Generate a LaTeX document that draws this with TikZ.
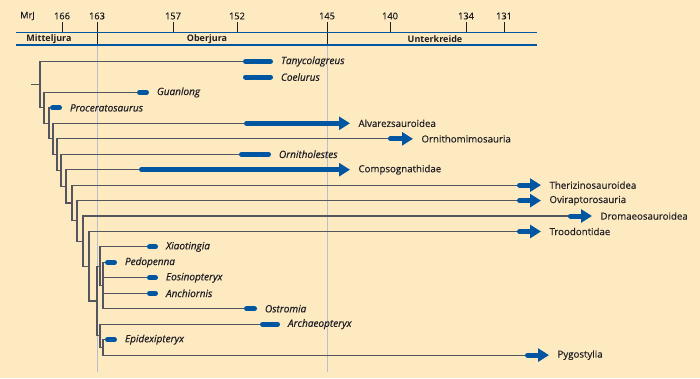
\documentclass[tikz,border=0pt]{standalone}
\usepackage{fontspec}
\setmainfont{Open Sans}
\newfontfamily\taxonfont{Open Sans}[FakeBold=0.5]
\newfontfamily\cladefont{Open Sans}[FakeBold=0.25]
\usetikzlibrary{arrows.meta, positioning}
\definecolor{pagebg}{RGB}{254, 234, 193}
\definecolor{rangeblue}{RGB}{0, 86, 160}
\definecolor{treegray}{RGB}{85, 85, 95}
\definecolor{guidegray}{RGB}{188, 190, 205}
\definecolor{inkdark}{RGB}{30, 30, 35}

\begin{document}
\begin{tikzpicture}[x=1pt, y=-1pt,
  tree/.style={draw=treegray, line width=1.1pt},
  bar/.style={draw=rangeblue, line width=5pt, line cap=round},
  longbar/.style={bar, -{Triangle[length=11pt, width=13pt]}},
  tick/.style={draw=inkdark, line width=0.9pt},
  guide/.style={draw=guidegray, line width=0.9pt},
  gen/.style={right=8pt, inner sep=0pt, text=inkdark, font=\fontsize{10}{12}\taxonfont\itshape},
  cla/.style={right=6pt, inner sep=0pt, text=inkdark, font=\fontsize{9.7}{12}\cladefont},
  yr/.style={inner sep=0pt, text=inkdark, font=\fontsize{9.3}{11}\cladefont},
  era/.style={inner sep=0pt, text=inkdark, font=\fontsize{9}{11}\selectfont\bfseries}
]
  % Background
  \fill[pagebg] (0,0) rectangle (700,378);
  \useasboundingbox (0,0) rectangle (700,378);

  % Time scale
  \node[yr] (mrj) at (27.5,16) {MrJ};
  \node[yr] (y166) at (62,16) {166};
  \node[yr] (y163) at (97,16) {163};
  \node[yr] (y157) at (173,16) {157};
  \node[yr] (y152) at (237,16) {152};
  \node[yr] (y145) at (327,16) {145};
  \node[yr] (y140) at (390,16) {140};
  \node[yr] (y134) at (466,16) {134};
  \node[yr] (y131) at (504,16) {131};
  \draw[guide] (97,45) -- (97,372);
  \draw[guide] (327,45) -- (327,372);
  \draw[tick] (62,22) -- (62,32) (173,22) -- (173,32) (237,22) -- (237,32)
    (390,22) -- (390,32) (466,22) -- (466,32) (504,22) -- (504,32);
  \draw[tick] (97,22) -- (97,45) (327,22) -- (327,45);
  \draw[rangeblue, line width=1.3pt] (16,32.3) -- (537,32.3) (16,45) -- (537,45);
  \node[era] (mitt) at (49,39) {Mitteljura};
  \node[era] (ober) at (207,39) {Oberjura};
  \node[era] (unte) at (435,39) {Unterkreide};

  % Branch points
  \coordinate (root) at (31,84.7);
  \coordinate (n0) at (40,84.7);
  \coordinate (n1) at (44,107.9);
  \coordinate (n2) at (49,123.4);
  \coordinate (n3) at (53,138.9);
  \coordinate (n4) at (57,154.5);
  \coordinate (n5) at (61,170.3);
  \coordinate (n6) at (66,186.3);
  \coordinate (n7) at (72,203);
  \coordinate (n8) at (77,220.9);
  \coordinate (n9) at (83,241.1);
  \coordinate (n10) at (89,266.3);
  \coordinate (np) at (97,301);
  \coordinate (na) at (100,266.2);
  \coordinate (na2) at (103,285.6);
  \coordinate (nb) at (100,335.8);
  \coordinate (nb2) at (103,347.4);

  % Taxa (start of range)
  \coordinate (tany) at (245.5,61.5);
  \coordinate (coel) at (245.5,77);
  \coordinate (guan) at (139.5,92.4);
  \coordinate (proc) at (52.5,107.9);
  \coordinate (alva) at (246.5,123.3);
  \coordinate (ornm) at (390.5,138.8);
  \coordinate (ornl) at (241.5,154.2);
  \coordinate (comp) at (141.5,169.7);
  \coordinate (ther) at (519.5,185.1);
  \coordinate (ovir) at (519.5,200.6);
  \coordinate (drom) at (570.5,216);
  \coordinate (troo) at (519.5,231.5);
  \coordinate (xiao) at (149.5,246.9);
  \coordinate (pedo) at (107.5,262.4);
  \coordinate (eosi) at (149.5,277.8);
  \coordinate (anch) at (149.5,293.3);
  \coordinate (ostr) at (246.5,308.7);
  \coordinate (arch) at (262.5,324.2);
  \coordinate (epid) at (107.5,339.6);
  \coordinate (pygo) at (527.5,355.1);

  % Tree
  \draw[tree] (root) -- (n0);
  \draw[tree] (n0) |- (tany);  \draw[tree] (n0) |- (n1);
  \draw[tree] (n1) |- (guan);  \draw[tree] (n1) |- (n2);
  \draw[tree] (n2) |- (proc);  \draw[tree] (n2) |- (n3);
  \draw[tree] (n3) |- (alva);  \draw[tree] (n3) |- (n4);
  \draw[tree] (n4) |- (ornm);  \draw[tree] (n4) |- (n5);
  \draw[tree] (n5) |- (ornl);  \draw[tree] (n5) |- (n6);
  \draw[tree] (n6) |- (comp);  \draw[tree] (n6) |- (n7);
  \draw[tree] (n7) |- (ther);  \draw[tree] (n7) |- (n8);
  \draw[tree] (n8) |- (ovir);  \draw[tree] (n8) |- (n9);
  \draw[tree] (n9) |- (drom);  \draw[tree] (n9) |- (n10);
  \draw[tree] (n10) |- (troo); \draw[tree] (n10) |- (np);
  \draw[tree] (np) |- (na);    \draw[tree] (np) |- (nb);
  \draw[tree] (na) |- (xiao);  \draw[tree] (na) |- (na2);
  \draw[tree] (na2) |- (pedo); \draw[tree] (na2) |- (eosi);
  \draw[tree] (na2) |- (anch); \draw[tree] (na2) |- (ostr);
  \draw[tree] (nb) |- (arch);  \draw[tree] (nb) |- (nb2);
  \draw[tree] (nb2) |- (epid); \draw[tree] (nb2) |- (pygo);

  % Ranges and names
  \draw[bar] (tany) -- ++(25,0) node[gen] (tanyL) {Tanycolagreus};
  \draw[bar] (coel) -- ++(25,0) node[gen] (coelL) {Coelurus};
  \draw[bar] (guan) -- ++(7,0) node[gen] (guanL) {Guanlong};
  \draw[bar] (proc) -- ++(7,0) node[gen] (procL) {Proceratosaurus};
  \draw[longbar] (alva) -- ++(103.5,0) node[cla] (alvaL) {Alvarezsauroidea};
  \draw[longbar] (ornm) -- ++(22.5,0) node[cla] (ornmL) {Ornithomimosauria};
  \draw[bar] (ornl) -- ++(27,0) node[gen] (ornlL) {Ornitholestes};
  \draw[longbar] (comp) -- ++(208.5,0) node[cla] (compL) {Compsognathidae};
  \draw[longbar] (ther) -- ++(21.5,0) node[cla] (therL) {Therizinosauroidea};
  \draw[longbar] (ovir) -- ++(21.5,0) node[cla] (ovirL) {Oviraptorosauria};
  \draw[longbar] (drom) -- ++(21.5,0) node[cla] (dromL) {Dromaeosauroidea};
  \draw[longbar] (troo) -- ++(21.5,0) node[cla] (trooL) {Troodontidae};
  \draw[bar] (xiao) -- ++(6,0) node[gen] (xiaoL) {Xiaotingia};
  \draw[bar] (pedo) -- ++(7,0) node[gen] (pedoL) {Pedopenna};
  \draw[bar] (eosi) -- ++(6,0) node[gen] (eosiL) {Eosinopteryx};
  \draw[bar] (anch) -- ++(6,0) node[gen] (anchL) {Anchiornis};
  \draw[bar] (ostr) -- ++(8,0) node[gen] (ostrL) {Ostromia};
  \draw[bar] (arch) -- ++(15,0) node[gen] (archL) {Archaeopteryx};
  \draw[bar] (epid) -- ++(7,0) node[gen] (epidL) {Epidexipteryx};
  \draw[longbar] (pygo) -- ++(21.5,0) node[cla] (pygoL) {Pygostylia};
\end{tikzpicture}
\end{document}
